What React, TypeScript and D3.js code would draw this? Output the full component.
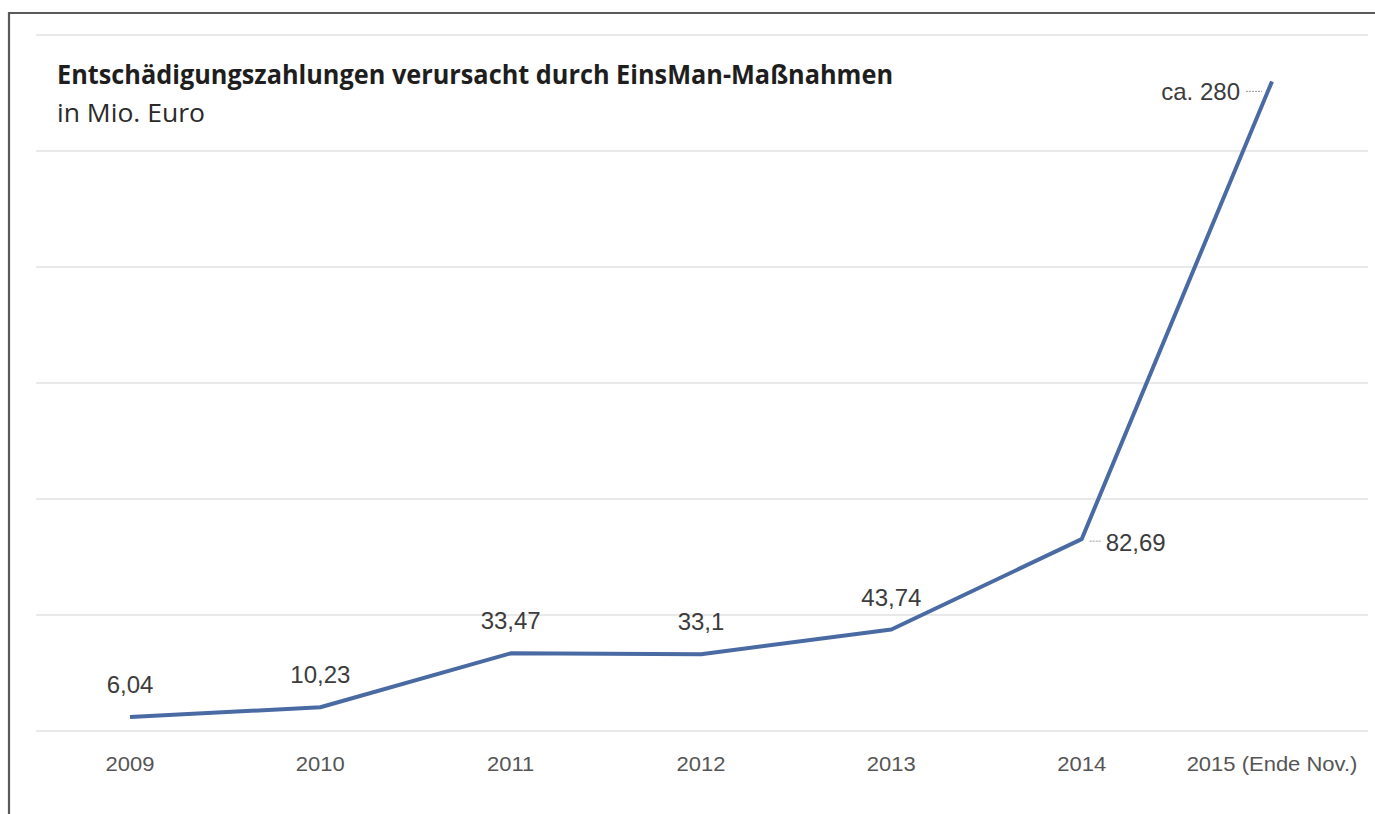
import React from "react";
import * as d3 from "d3";

const years = ["2009", "2010", "2011", "2012", "2013", "2014", "2015 (Ende Nov.)"];
const values = [6.04, 10.23, 33.47, 33.1, 43.74, 82.69, 280];
const valueLabels = ["6,04", "10,23", "33,47", "33,1", "43,74", "82,69", "ca. 280"];
const gridTicks = [0, 50, 100, 150, 200, 250, 300];

const title = "Entschädigungszahlungen verursacht durch EinsMan-Maßnahmen";
const subtitle = "in Mio. Euro";

const W = 1375;
const H = 814;

export default function App() {
  const x = d3.scalePoint<string>().domain(years).range([130, 1272]);
  const y = d3.scaleLinear().domain([0, 300]).range([731, 35]);
  const line = d3
    .line<number>()
    .x((_, i) => x(years[i]) as number)
    .y((d) => y(d));

  return (
    <svg
      width={W}
      height={H}
      style={{ position: "absolute", left: 0, top: 0, background: "#fff" }}
    >
      <rect x={0} y={0} width={W} height={H} fill="#fff" />
      {/* frame */}
      <path d={`M9,${H} L9,13 L${W},13`} fill="none" stroke="#5a5a5a" strokeWidth={2.2} />

      {/* gridlines */}
      {gridTicks.map((t) => (
        <line key={t} x1={36} x2={1368} y1={y(t)} y2={y(t)} stroke="#e2e2e2" strokeWidth={1.6} />
      ))}

      {/* title */}
      <text
        x={57}
        y={84}
        fontFamily="'Open Sans', 'Noto Sans', sans-serif"
        fontWeight={700}
        fontSize={27}
        fill="#1e1e1e"
        textLength={836}
        lengthAdjust="spacingAndGlyphs"
      >
        {title}
      </text>
      <text
        x={57}
        y={122}
        fontFamily="'Open Sans', 'Noto Sans', sans-serif"
        fontSize={26}
        fill="#2a2a2a"
        textLength={148}
        lengthAdjust="spacingAndGlyphs"
      >
        {subtitle}
      </text>

      {/* line */}
      <path d={line(values) || ""} fill="none" stroke="#4a6aa3" strokeWidth={4} strokeLinejoin="round" />

      {/* value labels */}
      {values.map((v, i) => {
        const px = x(years[i]) as number;
        const py = y(v);
        const common = {
          fontFamily: "'Liberation Sans', Arial, sans-serif",
          fontSize: 24,
          fill: "#3c3c3c",
        };
        if (i === 5) {
          return (
            <g key={i}>
              <line x1={px + 8} x2={px + 20} y1={py + 2} y2={py + 2} stroke="#9a9a9a" strokeWidth={1} strokeDasharray="2,1" />
              <text {...common} x={px + 24} y={py + 12} textAnchor="start">
                {valueLabels[i]}
              </text>
            </g>
          );
        }
        if (i === 6) {
          return (
            <g key={i}>
              <line x1={px - 26} x2={px - 10} y1={py + 10} y2={py + 10} stroke="#9a9a9a" strokeWidth={1} strokeDasharray="2,1" />
              <text {...common} x={px - 32} y={py + 19} textAnchor="end">
                {valueLabels[i]}
              </text>
            </g>
          );
        }
        return (
          <text key={i} {...common} x={px} y={py - 24} textAnchor="middle">
            {valueLabels[i]}
          </text>
        );
      })}

      {/* x axis labels */}
      {years.map((yr) => (
        <text
          key={yr}
          transform={`translate(${x(yr)},771) scale(1.1,1)`}
          textAnchor="middle"
          fontFamily="'Liberation Sans', Arial, sans-serif"
          fontSize={20}
          fill="#555"
        >
          {yr}
        </text>
      ))}
    </svg>
  );
}
